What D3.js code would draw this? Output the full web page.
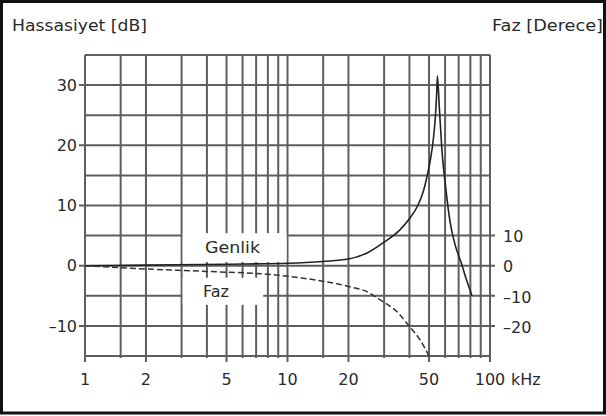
<!DOCTYPE html>
<head>
    <style>
        body {
            margin: 0;
            background: #fff;
        }
        text {
            font-family: "DejaVu Sans", sans-serif;
            font-size: 16px;
            fill: #2a2a2a;
        }
        .grid line {
            stroke: #5e5e5e;
            stroke-width: 2;
        }
    </style>
    <script src="https://cdn.jsdelivr.net/npm/d3@7"></script>
</head>
<body>
    <script>
        // values
        const gridFreqs = [1, 1.5, 2, 3, 4, 5, 6, 7, 8, 9, 10, 15, 20, 30, 40, 50, 60, 70, 80, 90, 100];
        const freqTicks = [1, 2, 5, 10, 20, 50, 100];
        const dbGrid = [-15, -10, -5, 0, 5, 10, 15, 20, 25, 30, 35];
        const dbTicks = [30, 20, 10, 0, -10];
        const phaseTicks = [10, 0, -10, -20];

        // Genlik (amplitude, dB)
        const ampFreq = [1, 2, 5, 10, 15, 20, 25, 30, 36, 40, 44, 47, 49, 51, 52.5, 53.8, 54.6, 55,
                         56.2, 57.9, 60.6, 63.5, 67.2, 71.9, 76.1, 81.5];
        const ampDb   = [0, 0.1, 0.25, 0.4, 0.7, 1.1, 2.2, 3.9, 6.0, 7.8, 10, 12.5, 15, 18, 21, 25, 29, 31.5,
                         26.3, 19.2, 12.6, 7.3, 3.5, 0.6, -2.1, -5];

        // Faz (phase, degrees)
        const phaseFreq = [1, 2, 4, 8.5, 11.5, 20, 25, 28.6, 35, 40, 45, 50];
        const phaseDeg  = [0, -1.1, -1.9, -3, -4, -6.9, -8.8, -11.3, -15.5, -20.2, -24.5, -30];

        const width = 606, height = 416;
        const m = { left: 85, right: 490, top: 55, bottom: 356 };

        const x = d3.scaleLog().domain([1, 100]).range([m.left, m.right]);
        const y = d3.scaleLinear().domain([-15, 35]).range([m.bottom, m.top]);
        const yPh = d3.scaleLinear().domain([-30, 70]).range([m.bottom, m.top]);

        const svg = d3.select('body').append('svg')
            .attr('width', width)
            .attr('height', height);

        svg.append('defs').append('clipPath').attr('id', 'plot')
            .append('rect')
            .attr('x', m.left).attr('y', m.top - 25)
            .attr('width', m.right - m.left).attr('height', m.bottom - m.top + 25);

        // outer frame
        svg.append('rect')
            .attr('x', 1.5).attr('y', 1.5)
            .attr('width', 603).attr('height', 411.5)
            .attr('fill', 'none')
            .attr('stroke', '#111')
            .attr('stroke-width', 3);

        const grid = svg.append('g').attr('class', 'grid');

        grid.selectAll('line.v').data(gridFreqs).enter()
            .append('line').attr('class', 'v')
            .attr('x1', d => x(d)).attr('x2', d => x(d))
            .attr('y1', m.top).attr('y2', d => freqTicks.includes(d) ? m.bottom + 6 : m.bottom + 2);

        grid.selectAll('line.h').data(dbGrid).enter()
            .append('line').attr('class', 'h')
            .attr('x1', d => dbTicks.includes(d) ? m.left - 6 : m.left)
            .attr('x2', d => phaseTicks.includes(d * 2) ? m.right + 5 : m.right)
            .attr('y1', d => y(d)).attr('y2', d => y(d));

        // white boxes behind the two curve labels
        svg.append('rect')
            .attr('x', x(3) + 1).attr('y', y(5.4))
            .attr('width', 104).attr('height', y(0.6) - y(5.4))
            .attr('fill', '#fff');
        svg.append('rect')
            .attr('x', x(3) + 1).attr('y', y(-2))
            .attr('width', x(7.5) - x(3)).attr('height', y(-6.5) - y(-2))
            .attr('fill', '#fff');

        // curves
        const ampLine = d3.line()
            .x(d => x(d[0])).y(d => y(d[1]))
            .curve(d3.curveMonotoneX);
        const phaseLine = d3.line()
            .x(d => x(d[0])).y(d => yPh(d[1]))
            .curve(d3.curveMonotoneX);

        svg.append('path')
            .datum(d3.zip(ampFreq, ampDb))
            .attr('clip-path', 'url(#plot)')
            .attr('d', ampLine)
            .attr('fill', 'none')
            .attr('stroke', '#222')
            .attr('stroke-width', 1.6);

        svg.append('path')
            .datum(d3.zip(phaseFreq, phaseDeg))
            .attr('clip-path', 'url(#plot)')
            .attr('d', phaseLine)
            .attr('fill', 'none')
            .attr('stroke', '#333')
            .attr('stroke-width', 1.5)
            .attr('stroke-dasharray', '6,3');

        // labels
        const fmt = d => d < 0 ? '\u2013' + Math.abs(d) : String(d);

        svg.selectAll('text.yl').data(dbTicks).enter()
            .append('text').attr('class', 'yl')
            .attr('x', m.left - 8).attr('y', d => y(d))
            .attr('dy', '0.36em')
            .attr('text-anchor', 'end')
            .text(fmt);

        svg.selectAll('text.yr').data(phaseTicks).enter()
            .append('text').attr('class', 'yr')
            .attr('x', m.right + 13).attr('y', d => yPh(d) + 1)
            .attr('dy', '0.36em')
            .text(fmt);

        svg.selectAll('text.xl').data(freqTicks).enter()
            .append('text').attr('class', 'xl')
            .attr('x', d => x(d)).attr('y', 385)
            .attr('text-anchor', 'middle')
            .text(d => d);

        svg.append('text')
            .attr('x', x(100) + 21).attr('y', 385)
            .text('kHz');

        svg.append('text')
            .attr('x', 12).attr('y', 31)
            .attr('textLength', 135)
            .attr('lengthAdjust', 'spacingAndGlyphs')
            .text('Hassasiyet [dB]');

        svg.append('text')
            .attr('x', 492).attr('y', 31)
            .attr('textLength', 111)
            .attr('lengthAdjust', 'spacingAndGlyphs')
            .text('Faz [Derece]');

        svg.append('text')
            .attr('x', 205).attr('y', 253)
            .attr('textLength', 55)
            .attr('lengthAdjust', 'spacingAndGlyphs')
            .text('Genlik');

        svg.append('text')
            .attr('x', 203).attr('y', 297)
            .text('Faz');
    </script>
</body>
